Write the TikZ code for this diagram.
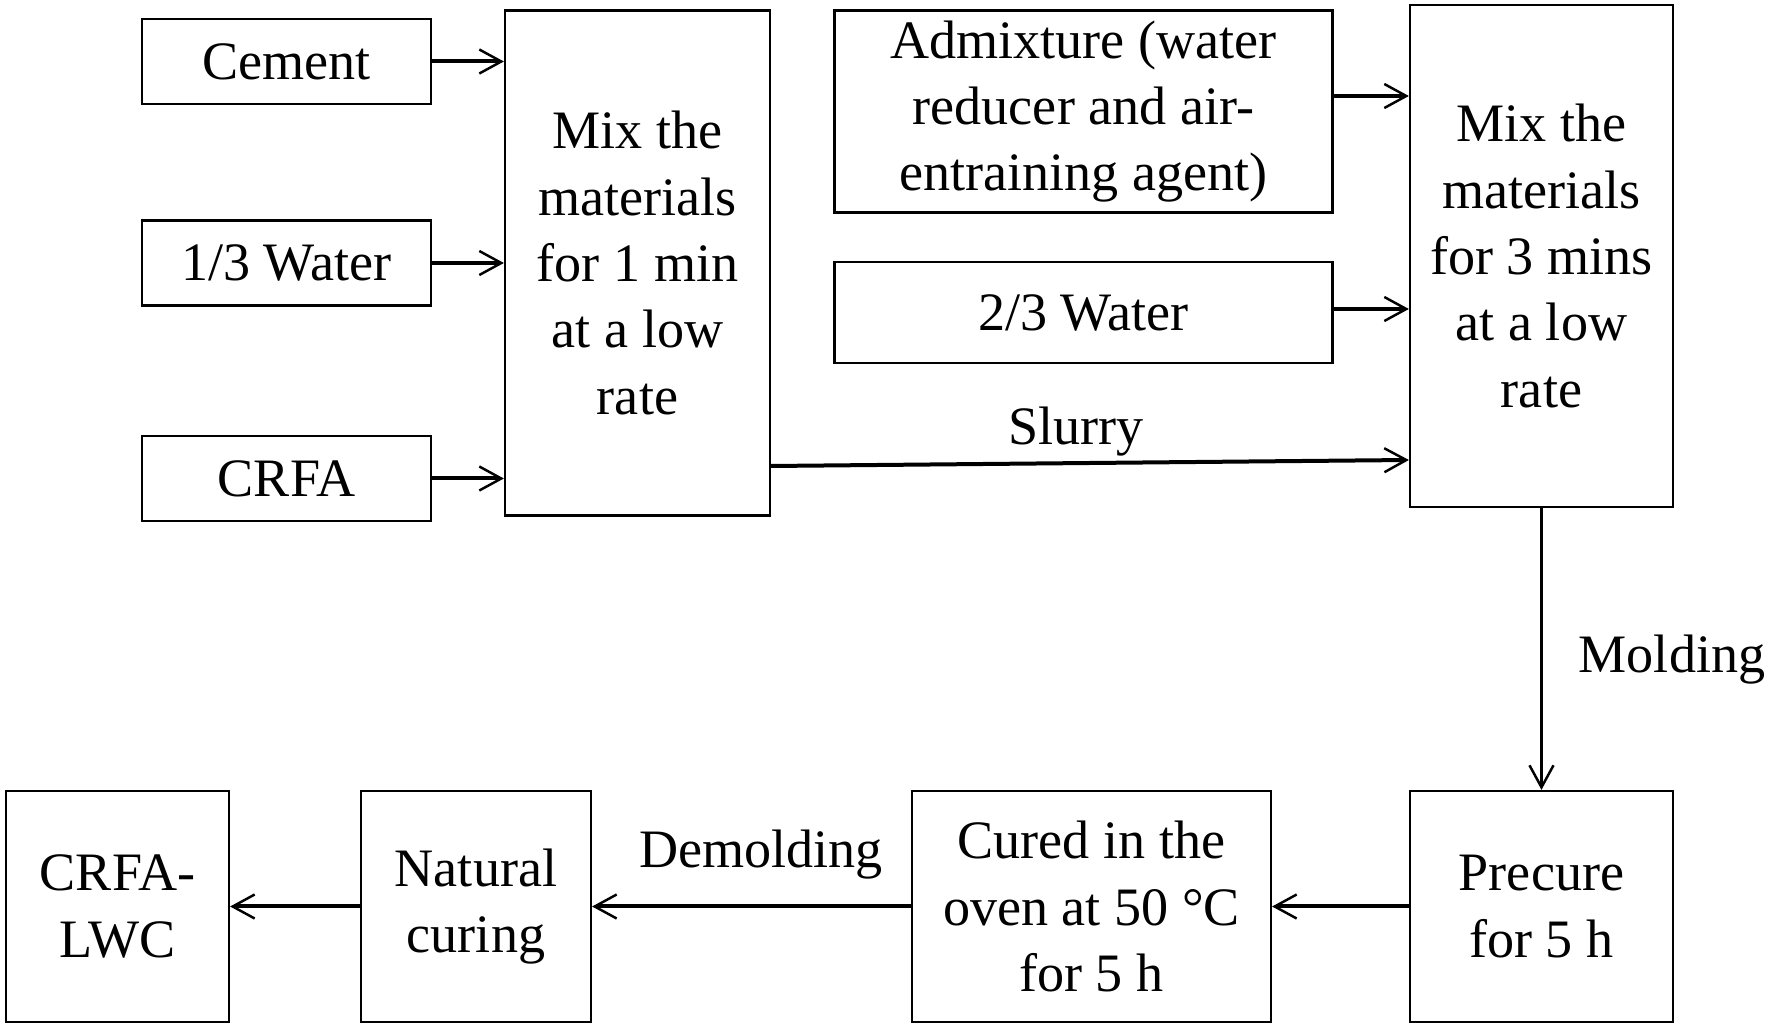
\documentclass[tikz,border=0pt]{standalone}
\usepackage{fontspec}
\setmainfont{Liberation Serif}
\usetikzlibrary{arrows.meta}

\newcommand{\flowfont}{\fontsize{15.4pt}{18.9pt}\selectfont}

\tikzset{
  box/.style={draw, line width=0.022cm, inner sep=0pt, align=center},
  arr/.style={line width=0.04cm, -{Straight Barb[length=0.22cm, width=0.24cm, line width=0.7pt 0]}},
  thinarr/.style={line width=0.022cm, -{Straight Barb[length=0.22cm, width=0.24cm, line width=0.7pt 0]}},
}

\begin{document}
\begin{tikzpicture}
                \useasboundingbox (0,0) rectangle (17.710000,10.270000);
                {\flowfont

                % Drawing input boxes of the first mix
                \node [box, minimum width=2.890000cm, minimum height=0.850000cm] (cement) at (2.865000,9.655000) {Cement};%
                \node [box, minimum width=2.890000cm, minimum height=0.850000cm] (watera) at (2.865000,7.640000) {1/3 Water};%
                \node [box, minimum width=2.890000cm, minimum height=0.850000cm] (crfa) at (2.865000,5.485000) {CRFA};%

                % Drawing box of the first mix
                \node [box, minimum width=2.650000cm, minimum height=5.050000cm] (mixa) at (6.375000,7.640000) {Mix the\\materials\\for 1 min\\at a low\\rate};%

                % Drawing input boxes of the second mix
                \node [box, minimum width=4.980000cm, minimum height=2.020000cm] (admix) at (10.835000,9.155000) {Admixture (water\\reducer and air-\\entraining agent)};%
                \node [box, minimum width=4.980000cm, minimum height=1.010000cm] (waterb) at (10.835000,7.145000) {2/3 Water};%

                % Drawing box of the second mix
                \node [box, minimum width=2.630000cm, minimum height=5.020000cm] (mixb) at (15.415000,7.710000) {Mix the\\materials\\for 3 mins\\at a low\\rate};%

                % Drawing boxes of the curing row
                \node [box, minimum width=2.630000cm, minimum height=2.310000cm] (precure) at (15.415000,1.205000) {Precure\\for 5 h};%
                \node [box, minimum width=3.590000cm, minimum height=2.310000cm] (oven) at (10.915000,1.205000) {Cured in the\\oven at 50 °C\\for 5 h};%
                \node [box, minimum width=2.300000cm, minimum height=2.310000cm] (natural) at (4.760000,1.205000) {Natural\\curing};%
                \node [box, minimum width=2.230000cm, minimum height=2.310000cm] (lwc) at (1.175000,1.205000) {CRFA-\\LWC};%

                % Drawing arrows into the first mix
                \draw [arr] (cement) -- (cement -| mixa.west);%
                \draw [arr] (watera) -- (watera -| mixa.west);%
                \draw [arr] (crfa) -- (crfa -| mixa.west);%

                % Drawing arrows into the second mix
                \draw [arr] ([yshift=0.155cm]admix.east) -- ([yshift=0.155cm]admix.east -| mixb.west);%
                \draw [arr] ([yshift=0.035cm]waterb.east) -- ([yshift=0.035cm]waterb.east -| mixb.west);%
                \draw [arr] ([yshift=-2.030cm]mixa.east) -- ([yshift=-2.040cm]mixb.west);%

                % Drawing line mix to precure
                \draw [thinarr] (mixb.south) -- (precure.north);%

                % Drawing arrows of the curing row
                \draw [arr] (precure) -- (oven);%
                \draw [arr] (oven) -- (natural);%
                \draw [arr] (natural) -- (lwc);%

                % Marking labels of the connectors
                \node (slurry) at (10.760000,5.950000) {Slurry};%
                \node (molding) at (16.720000,3.670000) {Molding};%
                \node (demolding) at (7.610000,1.720000) {Demolding};%
                }
\end{tikzpicture}
\end{document}
